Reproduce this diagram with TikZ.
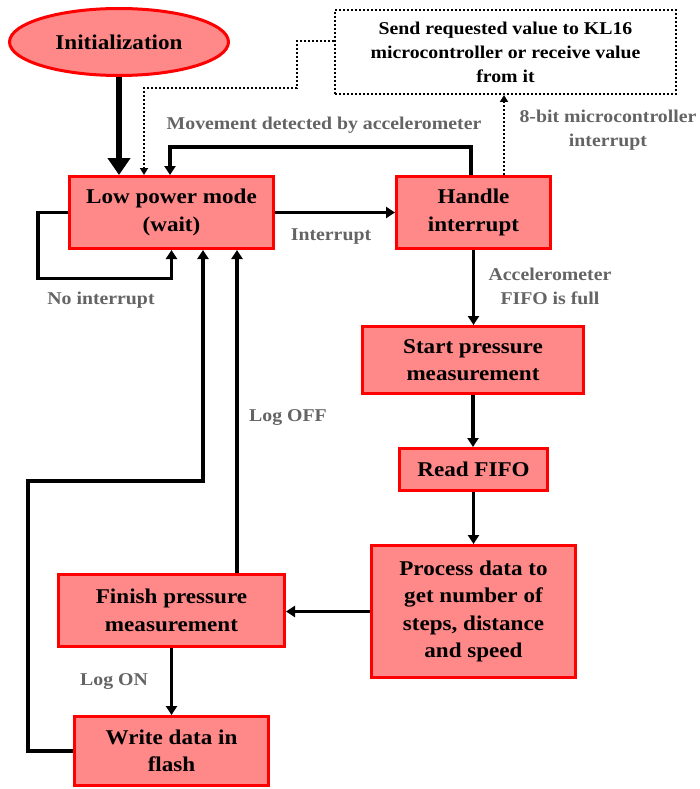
\documentclass[tikz,border=0pt]{standalone}
\usepackage{fontspec}
\setmainfont{Liberation Serif}[FakeStretch=1.1]
\usepackage{xcolor}
\usetikzlibrary{arrows.meta,shapes.geometric,positioning,calc}

\definecolor{boxfill}{RGB}{255,136,136}
\definecolor{labelgray}{RGB}{100,100,100}

\begin{document}
\begin{tikzpicture}[
		x=1pt,
		y=-1pt,
		line join=miter,
		stepbox/.style={
			draw=red,
			line width=3pt,
			fill=boxfill,
			align=center,
			inner sep=0pt,
			font=\fontsize{21}{27.5}\selectfont\bfseries
		},
		flow/.style={
			draw=black,
			line width=3.5pt,
			-{Triangle[length=9pt,width=11pt]}
		},
		dotflow/.style={
			draw=black,
			line width=2pt,
			dash pattern=on 2pt off 2pt,
			-{Triangle[length=7pt,width=8pt]}
		},
		lbl/.style={
			text=labelgray,
			align=center,
			inner sep=0pt,
			font=\fontsize{18}{24}\selectfont\bfseries
		}
		]
		
		% background
		\useasboundingbox (0,0) rectangle (699,789);
		
		% states
		\node[stepbox, ellipse, minimum width=219, minimum height=67] (init) at (119,42) {Initialization};
		\node[stepbox, minimum width=204, minimum height=72] (low) at (171.5,212.5) {Low power mode\\(wait)};
		\node[stepbox, minimum width=154, minimum height=72] (handle) at (473.5,212.5) {Handle\\interrupt};
		\node[stepbox, minimum width=221, minimum height=67] (start) at (473,360) {Start pressure\\measurement};
		\node[stepbox, minimum width=148, minimum height=42] (read) at (473.5,469.5) {Read FIFO};
		\node[stepbox, minimum width=204, minimum height=132] (process) at (473.5,611.5) {Process data to\\get number of\\steps, distance\\and speed};
		\node[stepbox, minimum width=226, minimum height=72] (finish) at (171.5,610.5) {Finish pressure\\measurement};
		\node[stepbox, minimum width=194, minimum height=69] (write) at (171.5,751) {Write data in\\flash};
		
		% dotted box
		\node[draw=black, line width=2pt, dash pattern=on 2pt off 2pt, minimum width=341, minimum height=84,
			align=center, inner sep=0pt, font=\fontsize{18}{24}\selectfont\bfseries] (send) at (505.5,52)
			{Send requested value to KL16\\microcontroller or receive value\\from it};
		
		% helper points
		\coordinate (hmov) at ([xshift=-2.5pt]handle.north);
		\coordinate (hdot) at ([xshift=30.5pt]handle.north);
		\coordinate (lmov) at ([xshift=-1.5pt]low.north);
		\coordinate (ldot) at ([xshift=-27.5pt]low.north);
		\coordinate (lwr)  at ([xshift=31.5pt]low.south);
		\coordinate (loff) at ([xshift=65.5pt]low.south);
		
		% connectors
		\draw[line width=6pt, -{Triangle[length=17pt,width=22pt]}] (init.south) -- (init.south |- low.north);
		\draw[flow] (low.east) -- (handle.west);
		\draw[flow] (low.west) -- ++(-30,0) -- ++(0,66) -| (low.south);
		\draw[flow] (hmov) -- ++(0,-28) -| (lmov);
		\draw[dotflow] ([yshift=11pt]send.west) -- ++(-37,0) -- ++(0,47) -| (ldot);
		\draw[dotflow] (hdot) -- (hdot |- send.south);
		\draw[flow] (handle.south) -- (handle.south |- start.north);
		\draw[flow] (start.south) -- (start.south |- read.north);
		\draw[flow] (read.south) -- (read.south |- process.north);
		\draw[flow] (process.west) -- (process.west -| finish.east);
		\draw[flow] (finish.south) -- (write.north);
		\draw[flow] (loff |- finish.north) -- (loff);
		\draw[flow] (write.west) -- ++(-45,0) -- ++(0,-270) -| (lwr);
		
		% labels
		\node[lbl] (lblmove) at (324,125) {Movement detected by accelerometer};
		\node[lbl] (lblint) at (331,237) {Interrupt};
		\node[lbl] (lblnoint) at (101,300) {No interrupt};
		\node[lbl] (lblbit) at (608,130) {8-bit microcontroller\\interrupt};
		\node[lbl] (lblfifo) at (550,286) {Accelerometer\\FIFO is full};
		\node[lbl] (lbloff) at (288,418) {Log OFF};
		\node[lbl] (lblon) at (114,682) {Log ON};
\end{tikzpicture}
\end{document}
